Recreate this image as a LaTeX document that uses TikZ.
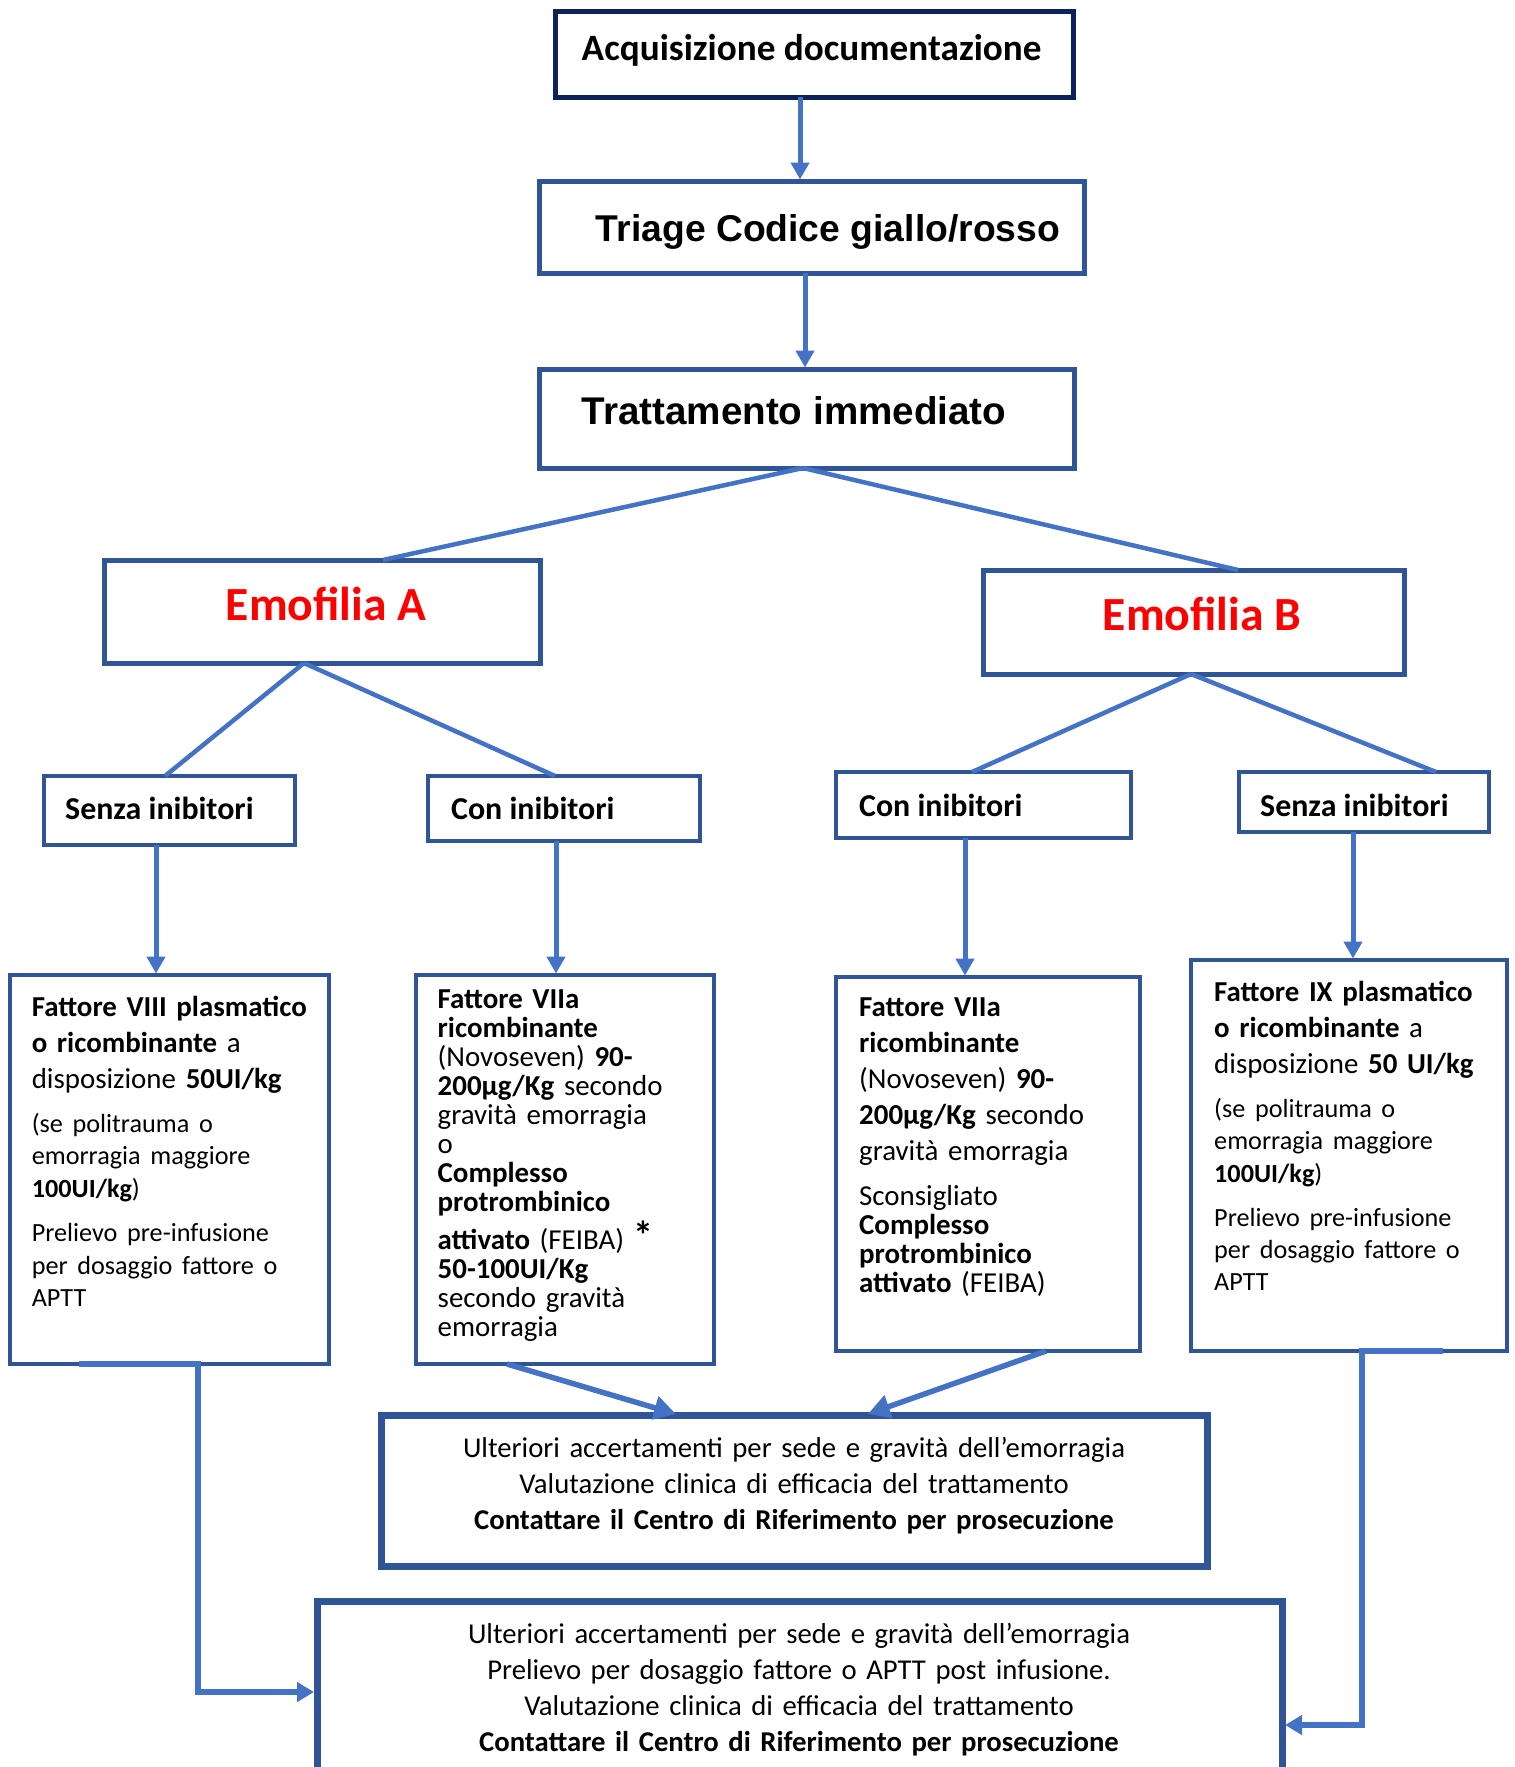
\documentclass[tikz,border=0pt]{standalone}
\usepackage{fontspec}
\setmainfont{Carlito}
\newfontfamily\arialfont{Liberation Sans}
\usetikzlibrary{arrows.meta}

\definecolor{boxblue}{HTML}{2F5597}
\definecolor{darknavy}{HTML}{0C2258}
\definecolor{linkblue}{HTML}{4472C4}

\newcommand{\bodysize}{\fontsize{28.9}{36}\selectfont\lineskiplimit=-50pt\relax}
\newcommand{\tightsize}{\fontsize{28.9}{29}\selectfont\lineskiplimit=-50pt\relax}
\newcommand{\smallsize}{\fontsize{26.2}{32.4}\selectfont\lineskiplimit=-50pt\relax}
\newcommand{\ressize}{\fontsize{28.7}{36}\selectfont\lineskiplimit=-50pt\relax}

\tikzset{
  box/.style={draw=boxblue, line width=5pt, inner sep=0pt, outer sep=0pt},
  titlebox/.style={box, draw=darknavy},
  resbox/.style={box, line width=7pt},
  subbox/.style={draw=boxblue, line width=3.5pt, inner sep=0pt, outer sep=0pt},
  head/.style={inner sep=0pt, font=\bfseries\fontsize{#1}{#1}\selectfont},
  arialhead/.style={inner sep=0pt, font=\arialfont\bfseries\fontsize{#1}{#1}\selectfont},
  sub/.style={inner sep=0pt, anchor=west, font=\bfseries\fontsize{31.9}{32}\selectfont},
  body/.style={inner sep=0pt, anchor=base west, align=left, text width=#1, font=\bodysize},
  link/.style={linkblue, line width=5pt, shorten >=1.5pt, -{Triangle[width=18pt,length=17pt]}},
  branch/.style={linkblue, line width=4.5pt},
  biglink/.style={linkblue, line width=5.5pt, shorten >=3pt, -{Triangle[width=23pt,length=22pt]}},
  elbow/.style={linkblue, line width=5.5pt, shorten >=3pt, -{Triangle[width=19pt,length=17pt]}},
}

\begin{document}
\begin{tikzpicture}[x=1pt, y=-1pt]
    \clip (0,0) rectangle (1515,1767);
    \fill[white] (0,0) rectangle (1515,1767);

    % top of the chart
    \node[titlebox, minimum width=518pt, minimum height=86pt] (acq) at (814,54) {};
    \node[head=37.2] (acqtext) at (811.6,50) {Acquisizione documentazione};
    \node[box, minimum width=545pt, minimum height=92pt] (triage) at (811.5,227) {};
    \node[arialhead=37.3] (triagetext) at (828,232) {Triage Codice giallo/rosso};
    \node[box, minimum width=535pt, minimum height=99pt] (tratt) at (806.5,418.5) {};
    \node[arialhead=38.6] (tratttext) at (794,411) {Trattamento immediato};

    \node[box, minimum width=436pt, minimum height=103pt] (emoA) at (322,611.5) {};
    \node[head=47.6, text=red] (emoAtext) at (326,604) {Emofilia A};
    \node[box, minimum width=421pt, minimum height=104pt] (emoB) at (1193.5,622) {};
    \node[head=47.6, text=red] (emoBtext) at (1202,614) {Emofilia B};

    % inhibitor boxes
    \node[subbox, minimum width=251pt, minimum height=69pt] (senzaA) at (169.5,810.5) {};
    \node[sub] (senzaAtext) at (65,808) {Senza inibitori};
    \node[subbox, minimum width=272pt, minimum height=65pt] (conA) at (564,808.5) {};
    \node[sub] (conAtext) at (451,808) {Con inibitori};
    \node[subbox, minimum width=295pt, minimum height=66pt] (conB) at (983.5,805) {};
    \node[sub] (conBtext) at (859,805) {Con inibitori};
    \node[subbox, minimum width=250pt, minimum height=60pt] (senzaB) at (1364,802) {};
    \node[sub] (senzaBtext) at (1260,805) {Senza inibitori};

    % treatment boxes
    \node[subbox, minimum width=319pt, minimum height=389pt] (infoA1) at (169.5,1169.5) {};
    \node[body=290pt] (infoA1text) at (31.6,1016) {%
        \textbf{Fattore VIII plasmatico}\\
        \textbf{o ricombinante} a\\
        disposizione \textbf{50UI/kg}\par
        \smallsize\vspace{12pt}%
        (se politrauma o\\
        emorragia maggiore\\
        \textbf{100UI/kg})\par
        \vspace{12pt}%
        Prelievo pre-infusione\\
        per dosaggio fattore o\\
        APTT\par};
    \node[subbox, minimum width=298pt, minimum height=389pt] (infoA2) at (565,1169.5) {};
    \node[body=270pt, font=\tightsize] (infoA2text) at (437.5,1008) {%
        \textbf{Fattore VIIa}\\
        \textbf{ricombinante}\\
        (Novoseven) \textbf{90-}\\
        \textbf{200µg/Kg} secondo\\
        gravità emorragia\\
        o\\
        \textbf{Complesso}\\
        \textbf{protrombinico}\\[9pt]
        \textbf{attivato} (FEIBA) {\fontsize{40}{40}\selectfont\textbf{*}}\\
        \textbf{50-100UI/Kg}\\
        secondo gravità\\
        emorragia\par};
    \node[subbox, minimum width=304pt, minimum height=374pt] (infoB1) at (988,1164) {};
    \node[body=270pt] (infoB1text) at (859,1016) {%
        \textbf{Fattore VIIa}\\
        \textbf{ricombinante}\\
        (Novoseven) \textbf{90-}\\
        \textbf{200µg/Kg} secondo\\
        gravità emorragia\par
        \tightsize\vspace{16.5pt}%
        Sconsigliato\\
        \textbf{Complesso}\\
        \textbf{protrombinico}\\
        \textbf{attivato} (FEIBA)\par};
    \node[subbox, minimum width=316pt, minimum height=391pt] (infoB2) at (1349,1155.5) {};
    \node[body=290pt] (infoB2text) at (1214,1001) {%
        \textbf{Fattore IX plasmatico}\\
        \textbf{o ricombinante} a\\
        disposizione \textbf{50 UI/kg}\par
        \smallsize\vspace{12pt}%
        (se politrauma o\\
        emorragia maggiore\\
        \textbf{100UI/kg})\par
        \vspace{11.5pt}%
        Prelievo pre-infusione\\
        per dosaggio fattore o\\
        APTT\par};

    % result boxes
    \node[resbox, minimum width=826pt, minimum height=151pt] (res1) at (794,1490.5) {};
    \node[inner sep=0pt, anchor=base, align=center, text width=820pt, font=\ressize] (res1text) at (794,1457.3) {%
        Ulteriori accertamenti per sede e gravità dell’emorragia\\
        Valutazione clinica di efficacia del trattamento\\
        \textbf{Contattare il Centro di Riferimento per prosecuzione}\par};
    \node[resbox, minimum width=965pt, minimum height=200pt] (res2) at (799.5,1701) {};
    \node[inner sep=0pt, anchor=base, align=center, text width=950pt, font=\ressize] (res2text) at (799,1643.3) {%
        Ulteriori accertamenti per sede e gravità dell’emorragia\\
        Prelievo per dosaggio fattore o APTT post infusione.\\
        Valutazione clinica di efficacia del trattamento\\
        \textbf{Contattare il Centro di Riferimento per prosecuzione}\par};

    % connectors
    \draw[link] ([xshift=-14pt]acq.south) -- ([xshift=-11.5pt]triage.north);
    \draw[link] ([xshift=-6.5pt]triage.south) -- ([xshift=-1.5pt]tratt.north);
    \draw[branch] ([xshift=-3.5pt]tratt.south) -- ([xshift=61pt]emoA.north);
    \draw[branch] ([xshift=-3.5pt]tratt.south) -- ([xshift=44.5pt]emoB.north);
    \draw[branch] ([xshift=-18pt]emoA.south) -- ([xshift=-4.5pt]senzaA.north);
    \draw[branch] ([xshift=-18pt]emoA.south) -- ([xshift=-9pt]conA.north);
    \draw[branch] ([xshift=-2.5pt]emoB.south) -- ([xshift=-11.5pt]conB.north);
    \draw[branch] ([xshift=-2.5pt]emoB.south) -- ([xshift=72pt]senzaB.north);
    \draw[link] ([xshift=-13.5pt]senzaA.south) -- ([xshift=-13.5pt]infoA1.north);
    \draw[link] ([xshift=-8pt]conA.south) -- ([xshift=-9pt]infoA2.north);
    \draw[link] ([xshift=-18.5pt]conB.south) -- ([xshift=-23pt]infoB1.north);
    \draw[link] ([xshift=-11pt]senzaB.south) -- ([xshift=4pt]infoB2.north);
    \draw[biglink] ([xshift=-58pt]infoA2.south) -- ([xshift=-115pt]res1.north);
    \draw[biglink] ([xshift=58pt]infoB1.south) -- ([xshift=71pt]res1.north);
    \draw[elbow] ([xshift=-90.5pt]infoA1.south) -- ([xshift=28.5pt]infoA1.south) |- ([yshift=9pt]res2.west);
    \draw[elbow] ([xshift=94pt]infoB2.south) -- ([xshift=13pt]infoB2.south) |- ([yshift=-24pt]res2.east);
\end{tikzpicture}
\end{document}
